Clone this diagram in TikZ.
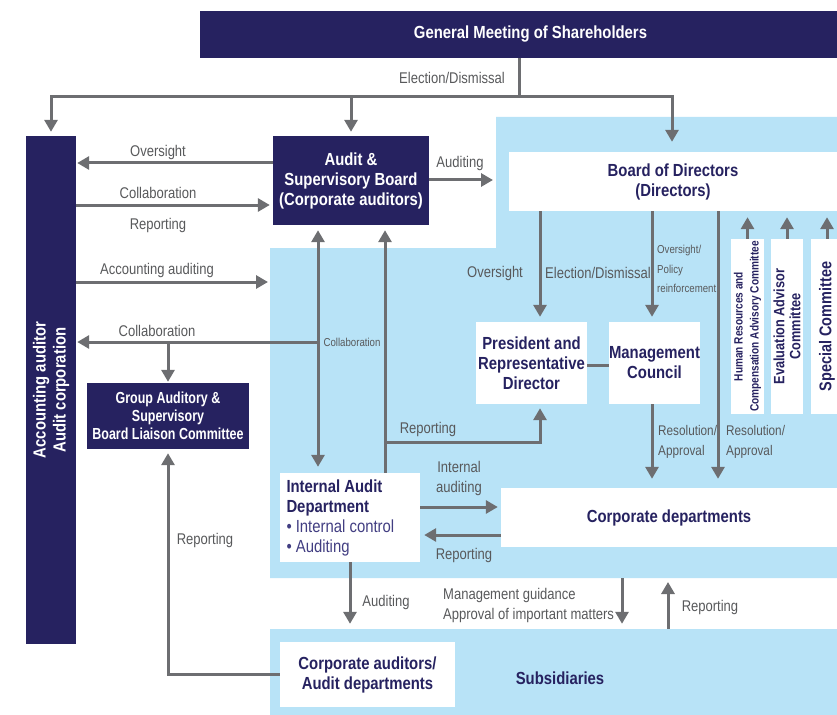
\documentclass[tikz,border=0pt]{standalone}
\usepackage{fontspec}
\setmainfont{Liberation Sans}
\newfontfamily\lab[FakeStretch=0.84]{Liberation Sans}
\newfontfamily\bx[FakeStretch=0.85]{Liberation Sans}
\newfontfamily\bxn[FakeStretch=0.78]{Liberation Sans}
\usetikzlibrary{arrows.meta,calc}
\definecolor{navy}{RGB}{38,34,96}
\definecolor{lblue}{RGB}{184,227,247}
\definecolor{agray}{RGB}{109,110,113}
\definecolor{tgray}{RGB}{88,89,91}
\definecolor{bnavy}{RGB}{66,62,130}
\tikzset{
  dbox/.style={fill=navy, text=white, font=\bx\bfseries\fontsize{17.5}{20}\selectfont, align=center, inner sep=0pt},
  wbox/.style={fill=white, text=navy, font=\bx\bfseries\fontsize{17.5}{20}\selectfont, align=center, inner sep=0pt},
  region/.style={fill=lblue, text=navy, font=\bx\bfseries\fontsize{17.5}{20}\selectfont, inner sep=0pt},
  lbl/.style={text=tgray, font=\lab\fontsize{15.5}{20}\selectfont, inner sep=0pt, align=center},
  slbl/.style={text=tgray, font=\lab\fontsize{11.5}{19.5}\selectfont, inner sep=0pt, align=left},
  conn/.style={draw=agray, line width=3pt},
  arr/.style={conn, -{Triangle[length=12pt,width=13pt]}},
  arrb/.style={conn, {Triangle[length=12pt,width=13pt]}-{Triangle[length=12pt,width=13pt]}}
}
\begin{document}
\begin{tikzpicture}[x=1pt,y=-1pt]
\useasboundingbox (0,0) rectangle (837,714);
% background regions
\fill[lblue] (496,117) -- (850,117) -- (850,578) -- (270,578) -- (270,248) -- (496,248) -- cycle;
\node[region, minimum width=580pt, minimum height=98pt] (sub) at (560,678) {Subsidiaries};

% boxes
\node[dbox, minimum width=661pt, minimum height=47pt] (gms) at (530.5,34.5) {General Meeting of Shareholders};
\node[dbox, rotate=90, minimum width=508pt, minimum height=50pt] (aa) at (51,390) {Accounting auditor\\Audit corporation};
\node[dbox, minimum width=156pt, minimum height=89pt] (asb) at (351,180.5) {Audit \&\\Supervisory Board\\(Corporate auditors)};
\node[dbox, font=\bxn\bfseries\fontsize{16}{18}\selectfont, minimum width=162pt, minimum height=66pt] (gac) at (168,416) {Group Auditory \&\\Supervisory\\Board Liaison Committee};
\node[wbox, minimum width=328pt, minimum height=59pt] (bod) at (673,181.5) {Board of Directors\\(Directors)};
\node[wbox, minimum width=111pt, minimum height=82pt] (pres) at (531.5,363) {President and\\Representative\\Director};
\node[wbox, minimum width=91pt, minimum height=82pt] (mc) at (654.5,363) {Management\\Council};
\node[wbox, rotate=90, font=\lab\bfseries\fontsize{12}{16}\selectfont, minimum width=175pt, minimum height=33pt] (hr) at (747.5,326.5) {Human Resources and\\Compensation Advisory Committee};
\node[wbox, rotate=90, font=\bx\bfseries\fontsize{15}{16}\selectfont, minimum width=175pt, minimum height=32pt] (ev) at (787,326.5) {Evaluation Advisor\\Committee};
\node[wbox, rotate=90, font=\bx\bfseries\fontsize{17}{20}\selectfont, minimum width=175pt, minimum height=32pt] (sp) at (827,326.5) {Special Committee};
\node[wbox, minimum width=140pt, minimum height=89pt, text width=127pt, align=flush left] (iad) at (350,517.5) {Internal Audit\\Department\\{\mdseries\color{bnavy}\textbullet\ Internal control}\\{\mdseries\color{bnavy}\textbullet\ Auditing}};
\node[wbox, minimum width=336pt, minimum height=59pt] (cd) at (669,517.5) {Corporate departments};
\node[wbox, minimum width=175pt, minimum height=65pt] (cad) at (367.5,674.5) {Corporate auditors/\\Audit departments};

% election / dismissal
\coordinate (e0) at (519,97);
\draw[conn] (gms.south -| e0) -- (e0);
\draw[arr, shorten >=4pt] (e0) -| (aa);
\draw[arr, shorten >=4pt] (e0) -| (asb);
\draw[arr, shorten >=10pt] (e0) -| (bod.north -| 672,0);
\node[lbl] (lelect) at (452,78) {Election/Dismissal};

% audit board <-> accounting auditor (aa is rotated: its south side faces right)
\draw[arr, shorten >=1pt] (asb.west |- 0,163) -- (aa.south |- 0,163);
\node[lbl] (lovs) at (158,152) {Oversight};
\draw[arr, shorten >=3pt] (aa.south |- 0,205) -- (asb.west |- 0,205);
\node[lbl] (lcol1) at (158,193) {Collaboration};
\node[lbl] (lrep1) at (158,225) {Reporting};
\coordinate (bl) at (270,282);
\draw[arr, shorten >=2pt] (aa.south |- bl) -- (bl);
\node[lbl] (lacc) at (157,270) {Accounting auditing};
\coordinate (br) at (496,180);
\draw[arr, shorten >=3pt] (asb.east |- br) -- (br);
\node[lbl] (laud1) at (460,163) {Auditing};

% collaboration column
\draw[arrb, shorten <=5pt, shorten >=6pt] (asb.south -| 318,0) -- (iad.north -| 318,0);
\node[slbl] (lcol3) at (352,342) {Collaboration};
\coordinate (cj) at (318,342);
\draw[arr, shorten >=1pt] (cj) -- (aa.south |- cj);
\draw[arr, shorten >=1pt] (gac.north |- cj) -- (gac.north);
\node[lbl] (lcol2) at (157,331) {Collaboration};

% reporting column
\coordinate (rj) at (385,442);
\draw[arr, shorten >=5pt] (iad.north -| rj) -- (asb.south -| rj);
\draw[arr, shorten >=4pt] (rj) -| (pres.south -| 540,0);
\node[lbl] (lrep2) at (428,429) {Reporting};

% internal audit <-> corporate departments
\draw[arr, shorten >=3pt] (iad.east |- 0,507) -- (cd.west |- 0,507);
\node[lbl] (lint) at (459,478) {Internal\\auditing};
\draw[arr, shorten >=4pt] (cd.west |- 0,535) -- (iad.east |- 0,535);
\node[lbl] (lrep3) at (464,555) {Reporting};

% board of directors downwards
\draw[arr, shorten >=5pt] (bod.south -| 540,0) -- (pres.north -| 540,0);
\node[lbl] (lovs2) at (495,273) {Oversight};
\node[lbl] (lelect2) at (598,273) {Election/Dismissal};
\draw[arr, shorten >=5pt] (bod.south -| 652,0) -- (mc.north -| 652,0);
\node[slbl, anchor=west] (lpol) at (657,269) {Oversight/\\Policy\\reinforcement};
\draw[conn] (pres.east |- 0,365) -- (mc.west |- 0,365);
\draw[arr, shorten >=9pt] (bod.south -| 718,0) -- (cd.north -| 718,0);
\draw[arr, shorten >=9pt] (mc.south -| 652,0) -- (cd.north -| 652,0);
\node[lbl, font=\lab\fontsize{14}{20}\selectfont, anchor=west, align=left] (lres1) at (658,442) {Resolution/\\Approval};
\node[lbl, font=\lab\fontsize{14}{20}\selectfont, anchor=west, align=left] (lres2) at (726,442) {Resolution/\\Approval};

% committees
\draw[arr, shorten >=6pt] (hr.east) -- (bod.south -| hr.east);
\draw[arr, shorten >=6pt] (ev.east) -- (bod.south -| ev.east);
\draw[arr, shorten >=6pt] (sp.east) -- (bod.south -| sp.east);

% subsidiaries
\draw[arr, shorten >=5pt] (iad.south) -- (iad.south |- sub.north);
\node[lbl] (laud2) at (386,602) {Auditing};
\coordinate (mg) at (622,578);
\draw[arr, shorten >=5pt] (mg) -- (mg |- sub.north);
\node[lbl, anchor=west, align=left] (lmg) at (443,605.5) {Management guidance\\Approval of important matters};
\coordinate (rp) at (668,578);
\draw[arr, shorten >=4pt] (sub.north -| rp) -- (rp);
\node[lbl] (lrep4) at (710,607) {Reporting};
\draw[arr, shorten >=4pt] (cad.west) -- (gac.south |- cad.west) -- (gac.south);
\node[lbl] (lrep5) at (205,540) {Reporting};
\end{tikzpicture}
\end{document}
